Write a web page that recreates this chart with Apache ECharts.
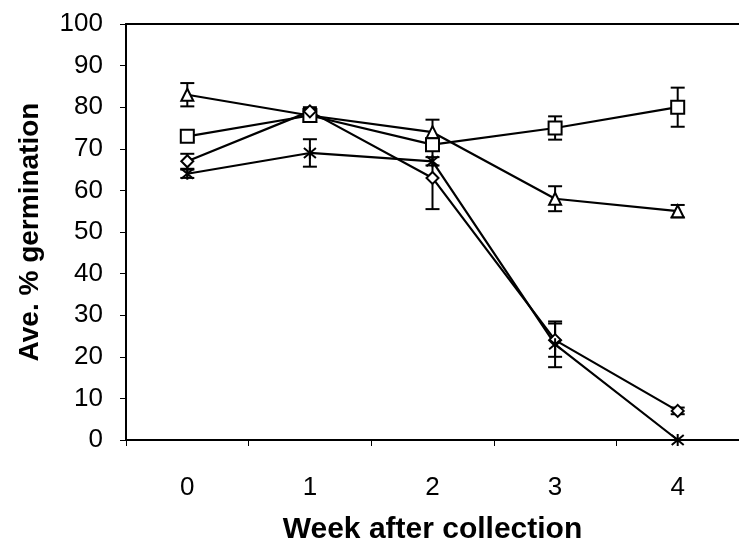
<!DOCTYPE html>
<html><head><meta charset="utf-8">
<script src="https://cdn.jsdelivr.net/npm/echarts@6/dist/echarts.min.js"></script>
<style>html,body{margin:0;padding:0;background:#fff}#c{width:739px;height:551px}</style>
</head><body><div id="c"></div>
<script>
const weeks = ['0','1','2','3','4'];
const triangleVals = [83, 78, 74, 58, 55];
const triangleErr  = [2.8, 1.2, 3, 3, 1.5];
const squareVals   = [73, 78, 71, 75, 80];
const squareErr    = [1, 1, 1.5, 2.8, 4.7];
const diamondVals  = [67, 79, 63, 24, 7];
const diamondErr   = [1.8, 1, 7.5, 4, 0.8];
const starVals     = [64, 69, 67, 23, 0];
const starErr      = [1, 3.3, 1, 5.5, 0];
const yTicks = [0,10,20,30,40,50,60,70,80,90,100];

const FONT = '"Liberation Sans", Arial, sans-serif';
const starPath = 'path://M0,0L10,10M10,0L0,10M5,-1L5,11';

function lineSeries(name, vals, symbol, size, fill) {
  return {
    name, type: 'line', data: vals, symbol, symbolSize: size,
    lineStyle: { color: '#000', width: 2.2 },
    itemStyle: { color: fill, borderColor: '#000', borderWidth: 2 },
    z: 3, animation: false
  };
}
function errSeries(vals, errs) {
  return {
    type: 'custom', z: 2, animation: false,
    data: vals.map((v, i) => [i, v, errs[i]]),
    renderItem: function (params, api) {
      const x = api.value(0), v = api.value(1), e = api.value(2);
      if (!e) return null;
      const top = api.coord([x, v + e]);
      const bot = api.coord([x, v - e]);
      const hw = 7;
      const st = { stroke: '#000', lineWidth: 2 };
      return { type: 'group', children: [
        { type: 'line', shape: { x1: top[0], y1: top[1], x2: bot[0], y2: bot[1] }, style: st },
        { type: 'line', shape: { x1: top[0]-hw, y1: top[1], x2: top[0]+hw, y2: top[1] }, style: st },
        { type: 'line', shape: { x1: bot[0]-hw, y1: bot[1], x2: bot[0]+hw, y2: bot[1] }, style: st }
      ]};
    }
  };
}

const chart = echarts.init(document.getElementById('c'));
chart.setOption({
  backgroundColor: '#fff',
  animation: false,
  grid: { left: 126, top: 24, right: -10, bottom: 111, containLabel: false },
  xAxis: [{
    type: 'category', data: weeks, boundaryGap: true,
    axisLine: { show: true, lineStyle: { color: '#000', width: 2 } },
    axisTick: { show: true, length: 6, lineStyle: { color: '#000', width: 1 } },
    axisLabel: { fontSize: 26, color: '#000', fontFamily: FONT, margin: 35 },
    name: 'Week after collection', nameLocation: 'middle', nameGap: 75,
    nameTextStyle: { fontSize: 30, fontWeight: 'bold', color: '#000', fontFamily: FONT },
    splitLine: { show: false }
  }, {
    type: 'category', data: weeks, position: 'top', boundaryGap: true,
    axisLine: { show: true, lineStyle: { color: '#000', width: 2 } },
    axisTick: { show: false }, axisLabel: { show: false }, splitLine: { show: false }
  }],
  yAxis: {
    type: 'value', min: yTicks[0], max: yTicks[yTicks.length-1], interval: 10,
    axisLine: { show: true, lineStyle: { color: '#000', width: 2 } },
    axisTick: { show: true, length: 6, lineStyle: { color: '#000', width: 1 } },
    axisLabel: { fontSize: 26, color: '#000', fontFamily: FONT, margin: 23 },
    splitLine: { show: false },
    name: 'Ave. % germination', nameLocation: 'middle', nameGap: 82, nameRotate: 90,
    nameTextStyle: { fontSize: 28, fontWeight: 'bold', color: '#000', fontFamily: FONT }
  },
  series: [
    errSeries(triangleVals, triangleErr),
    errSeries(squareVals, squareErr),
    errSeries(diamondVals, diamondErr),
    errSeries(starVals, starErr),
    lineSeries('triangle', triangleVals, 'triangle', 12, '#fff'),
    lineSeries('square', squareVals, 'rect', 13, '#fff'),
    lineSeries('diamond', diamondVals, 'diamond', 12, '#fff'),
    lineSeries('star', starVals, starPath, 12, '#000')
  ]
});
</script></body></html>
